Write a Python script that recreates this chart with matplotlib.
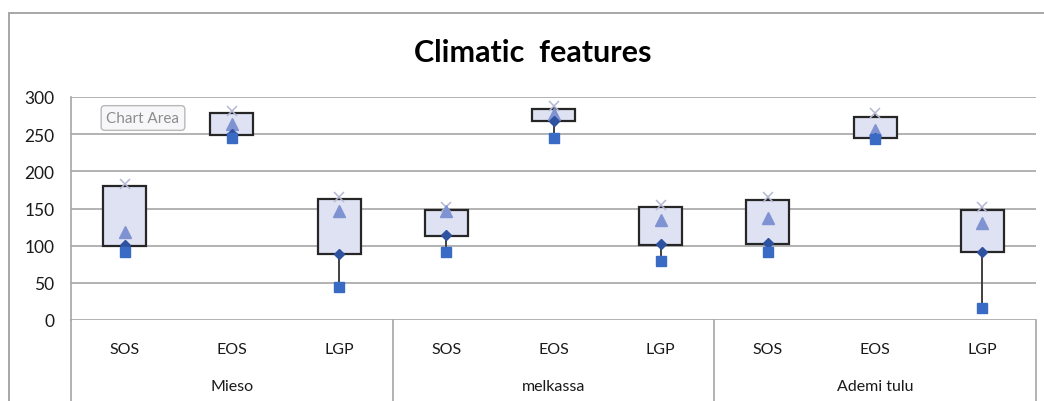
import matplotlib
matplotlib.use("Agg")
import matplotlib.pyplot as plt
import matplotlib.patches as mpatches
import numpy as np

plt.rcParams['font.family'] = ['Lato', 'DejaVu Sans']

# data
groups = ["Mieso", "melkassa", "Ademi tulu"]
features = ["SOS", "EOS", "LGP"]
box_high = [180, 279, 163, 148, 284, 152, 161, 273, 148]
box_low = [99, 249, 89, 113, 268, 101, 102, 245, 91]
max_vals = [183, 281, 166, 152, 288, 155, 165, 278, 152]
mean_vals = [118, 264, 146, 146, 277, 134, 137, 256, 130]
median_vals = [101, 250, 89, 115, 268, 102, 104, 245, 92]
min_vals = [92, 245, 45, 91, 245, 80, 91, 243, 16]

W, H = 1044, 402
fig = plt.figure(figsize=(W / 100, H / 100), dpi=100)
ax = fig.add_axes([71 / W, 1 - 321 / H, (1036 - 71) / W, (321 - 98) / H])

x = np.arange(len(box_high))
hi = np.array(box_high)
lo = np.array(box_low)

grid_c = "#a6a6a6"
for v in range(0, 301, 50):
    ax.axhline(v, color=grid_c, lw=1.2, zorder=0)

ax.vlines(x, min_vals, max_vals, color="#404040", lw=1.4, zorder=1)
ax.bar(x, hi - lo, bottom=lo, width=0.4, color="#dfe2f2",
       edgecolor="#262626", linewidth=1.6, zorder=2)
ax.plot(x, max_vals, ls="none", marker="x", ms=7, mew=1.1, color="#b4b8d4", zorder=3)
ax.plot(x, mean_vals, ls="none", marker="^", ms=8, color="#7f92d2", zorder=4)
ax.plot(x, median_vals, ls="none", marker="D", ms=5.5, color="#2f52a0", zorder=5)
ax.plot(x, min_vals, ls="none", marker="s", ms=6.5, color="#3a6bc4", zorder=6)

ax.set_xlim(-0.5, len(x) - 0.5)
ax.set_ylim(0, 300)
ax.set_yticks(range(0, 301, 50))
ax.tick_params(axis="y", length=0, pad=12, labelsize=12.5, labelcolor="#1a1a1a")
ax.set_xticks([])
for s in ["top", "right", "bottom"]:
    ax.spines[s].set_visible(False)
ax.spines["left"].set_color(grid_c)
ax.spines["left"].set_linewidth(1.2)

# multi-level category axis
tr = ax.get_xaxis_transform()
bottom_y = -(H - 321) / (321 - 98)
for b in [-0.5, 2.5, 5.5, 8.5]:
    ax.plot([b, b], [0, bottom_y], transform=tr, color=grid_c, lw=1.2, clip_on=False)
for i in x:
    ax.text(i, -(350 - 321) / 223, features[i % 3], transform=tr, ha="center",
            va="center", fontsize=11.5, color="#1a1a1a")
for g, name in enumerate(groups):
    ax.text(3 * g + 1, -(387 - 321) / 223, name, transform=tr, ha="center",
            va="center", fontsize=11.5, color="#1a1a1a")

fig.text(533 / W, 1 - 53 / H, "Climatic  features", ha="center", va="center",
         fontsize=22, fontweight="bold", color="black")

# chart area border
fig.patches.append(mpatches.Rectangle((9 / W, -0.2), 1.2, 1.2 - 14 / H,
                                      transform=fig.transFigure, fill=False,
                                      edgecolor="#a0a0a0", lw=1.3))

# tooltip
fig.text(143 / W, 1 - 119 / H, "Chart Area", ha="center", va="center",
         fontsize=11, color="#8c8c8c",
         bbox=dict(boxstyle="round,pad=0.35,rounding_size=0.25", fc="#f7f7f9",
                   ec="#b8b8b8", lw=1))

fig.savefig("out.png", dpi=100)
